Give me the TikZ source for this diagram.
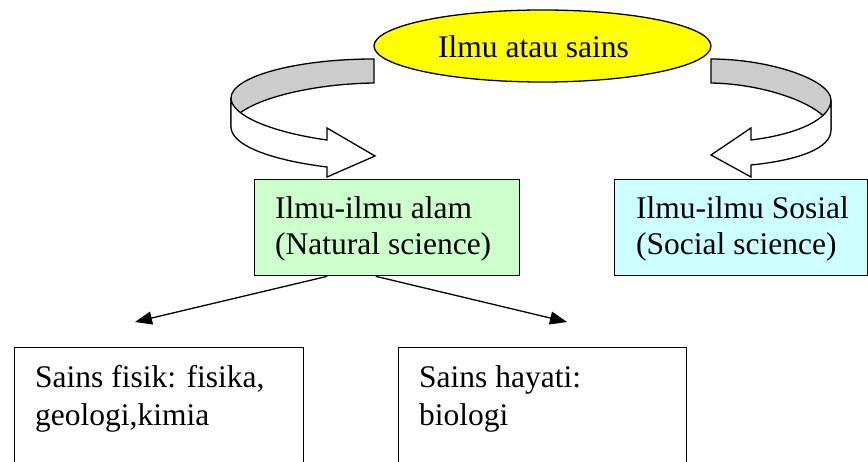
\documentclass[tikz,border=0pt]{standalone}
\usepackage{fontspec}
\setmainfont{LiberationSerif}[Extension=.ttf, UprightFont=*-Regular, BoldFont=*-Bold, ItalicFont=*-Italic, BoldItalicFont=*-BoldItalic]
\usetikzlibrary{shapes.geometric,arrows.meta,calc}
\definecolor{natgreen}{HTML}{CCFFCC}
\definecolor{socblue}{HTML}{CCFFFF}
\definecolor{ribgray}{HTML}{CCCCCC}
\definecolor{topyellow}{HTML}{FFFF00}
\begin{document}
\begin{tikzpicture}[x=1pt,y=-1pt,
  txt/.style={anchor=base west, inner sep=0pt, font=\fontsize{31.5}{36}\selectfont},
  box/.style={draw=black, line width=1.3pt, anchor=north west, inner sep=0pt},
  ribbon/.style={draw=black, line width=1.3pt, line join=miter},
  conn/.style={line width=1.3pt, -{Triangle[length=17pt,width=13pt]}}]
\useasboundingbox (0,0) rectangle (868,462);

% curved ribbon arrows
\filldraw[ribbon, fill=ribgray] (374,59) .. controls (295,59) and (231,77) .. (231,98) -- (231,127) .. controls (231,105) and (300,84) .. (374,83) -- cycle;
\filldraw[ribbon, fill=white] (231,98) .. controls (231,115) and (270,132) .. (327,140) -- (327,128) -- (375,156) -- (327,177) -- (327,167) .. controls (270,160) and (231,145) .. (231,127) -- cycle;

\filldraw[ribbon, fill=ribgray] (711,59) .. controls (770,59) and (831,80) .. (831,100) -- (831,130) .. controls (831,108) and (770,84) .. (711,83) -- cycle;
\filldraw[ribbon, fill=white] (831,100) .. controls (831,118) and (800,134) .. (751,140) -- (751,128) -- (711,155) -- (751,177) -- (751,165) .. controls (800,160) and (831,148) .. (831,130) -- cycle;

% top ellipse
\node[draw=black, ellipse, fill=topyellow, line width=1.3pt, minimum width=337pt, minimum height=72pt, inner sep=0pt] (top) at (542.5,46) {};
\node[txt] (topA) at (438,58) {Ilmu atau sains};

% boxes
\node[box, fill=natgreen, minimum width=265pt, minimum height=96pt] (nat) at (254,179) {};
\node[box, fill=socblue, minimum width=253pt, minimum height=96pt] (soc) at (614,179) {};
\node[box, fill=white, minimum width=289pt, minimum height=150pt] (fis) at (14,347) {};
\node[box, fill=white, minimum width=288pt, minimum height=150pt] (hay) at (398,347) {};

\node[txt] (natA) at (275,219) {Ilmu-ilmu alam};
\node[txt] (natB) at (275,255) {(Natural science)};
\node[txt] (socA) at (636,219) {Ilmu-ilmu Sosial};
\node[txt] (socB) at (636,255) {(Social science)};
\node[txt] (fisA) at (35,388) {Sains fisik: fisika,};
\node[txt] (fisB) at (35,425) {geologi,kimia};
\node[txt] (hayA) at (419,388) {Sains hayati:};
\node[txt] (hayB) at (419,425) {biologi};

% connectors
\coordinate (tipL) at (135,322);
\coordinate (tipR) at (567,322);
\draw[conn] ($(nat.south west)!0.275!(nat.south east)$) -- (tipL);
\draw[conn] ($(nat.south west)!0.457!(nat.south east)$) -- (tipR);
\end{tikzpicture}
\end{document}
